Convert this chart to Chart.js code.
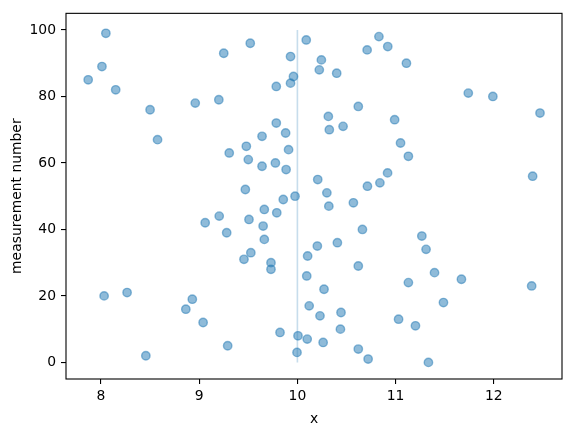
<!DOCTYPE html>
<html><head><meta charset="utf-8">
<script src="https://cdn.jsdelivr.net/npm/chart.js@4/dist/chart.umd.min.js"></script>
<style>html,body{margin:0;padding:0;background:#fff;} #wrap{width:571px;height:432px;position:relative}</style>
</head><body><div id="wrap"><canvas id="c" width="571" height="432"></canvas></div>
<script>
const measurementNumbers = [0,1,2,3,4,5,6,7,8,9,10,11,12,13,14,15,16,17,18,19,20,21,22,23,24,25,26,27,28,29,30,31,32,33,34,35,36,37,38,39,40,41,42,43,44,45,46,47,48,49,50,51,52,53,54,55,56,57,58,59,60,61,62,63,64,65,66,67,68,69,70,71,72,73,74,75,76,77,78,79,80,81,82,83,84,85,86,87,88,89,90,91,92,93,94,95,96,97,98,99];
const xValues = [11.334,10.72,8.457,9.996,10.62,9.29,10.262,10.10,10.006,9.823,
  10.438,11.202,9.04,11.03,10.23,10.444,8.864,10.12,11.487,8.93,
  8.032,8.266,10.271,12.385,11.13,11.67,10.095,11.396,9.731,10.62,
  9.731,9.456,10.104,9.526,11.31,10.203,10.407,9.663,11.267,9.28,
  10.662,9.651,9.061,9.507,9.204,9.79,9.663,10.32,10.57,9.856,
  9.976,10.30,9.47,10.713,10.84,10.207,12.395,10.918,9.885,9.64,
  9.776,9.50,11.13,9.306,9.91,9.48,11.05,8.576,9.64,9.88,
  10.325,10.465,9.785,10.99,10.315,12.47,8.50,10.62,8.96,9.20,
  11.99,11.74,8.15,9.785,9.93,7.87,9.96,10.40,10.223,8.01,
  11.11,10.244,9.93,9.25,10.71,10.92,9.52,10.09,10.83,8.05];
const xTicks = [8,9,10,11,12];
const yTicks = [0,20,40,60,80,100];
const refLineX = [10,10];
const refLineY = [0,100];

const scatterData = measurementNumbers.map((m,i)=>({x:xValues[i], y:m}));
const lineData = refLineX.map((x,i)=>({x:x, y:refLineY[i]}));
const FONT = {family:"'DejaVu Sans', sans-serif", size:13.9};

const frame = {
  id:'frame',
  afterDatasetsDraw(chart){
    const {ctx, chartArea:a} = chart;
    ctx.save();
    ctx.strokeStyle = '#000';
    ctx.lineWidth = 1.1;
    ctx.strokeRect(a.left, a.top, a.right-a.left, a.bottom-a.top);
    ctx.restore();
  }
};

new Chart(document.getElementById('c'), {
  type:'scatter',
  data:{datasets:[
    {data:scatterData, backgroundColor:'rgba(31,119,180,0.5)', borderColor:'rgba(31,119,180,0.5)', borderWidth:1.4, pointRadius:4.2, order:1},
    {data:lineData, showLine:true, pointRadius:0, borderColor:'rgba(31,119,180,0.25)', borderWidth:1.6, order:2}
  ]},
  options:{
    responsive:false, animation:false, devicePixelRatio:1,
    layout:{padding:{left:0, top:9, right:9, bottom:0}},
    plugins:{legend:{display:false}, tooltip:{enabled:false}},
    scales:{
      x:{type:'linear', min:7.644, max:12.694,
        afterBuildTicks(s){ s.ticks = xTicks.map(v=>({value:v})); },
        afterFit(s){ s.height = 53; },
        ticks:{color:'#000', font:FONT, padding:4, maxRotation:0},
        grid:{display:true, drawOnChartArea:false, drawTicks:true, tickLength:5, color:'#000', lineWidth:1.1},
        border:{display:false},
        title:{display:true, text:'x', color:'#000', font:FONT, padding:{top:4, bottom:4.6}}
      },
      y:{type:'linear', min:-5, max:105,
        afterBuildTicks(s){ s.ticks = yTicks.map(v=>({value:v})); },
        afterFit(s){ s.width = 66; },
        ticks:{color:'#000', font:FONT, padding:5},
        grid:{display:true, drawOnChartArea:false, drawTicks:true, tickLength:5, color:'#000', lineWidth:1.1},
        border:{display:false},
        title:{display:true, text:'measurement number', color:'#000', font:FONT, padding:{top:8.7, bottom:4}}
      }
    }
  },
  plugins:[frame]
});
</script></body></html>
